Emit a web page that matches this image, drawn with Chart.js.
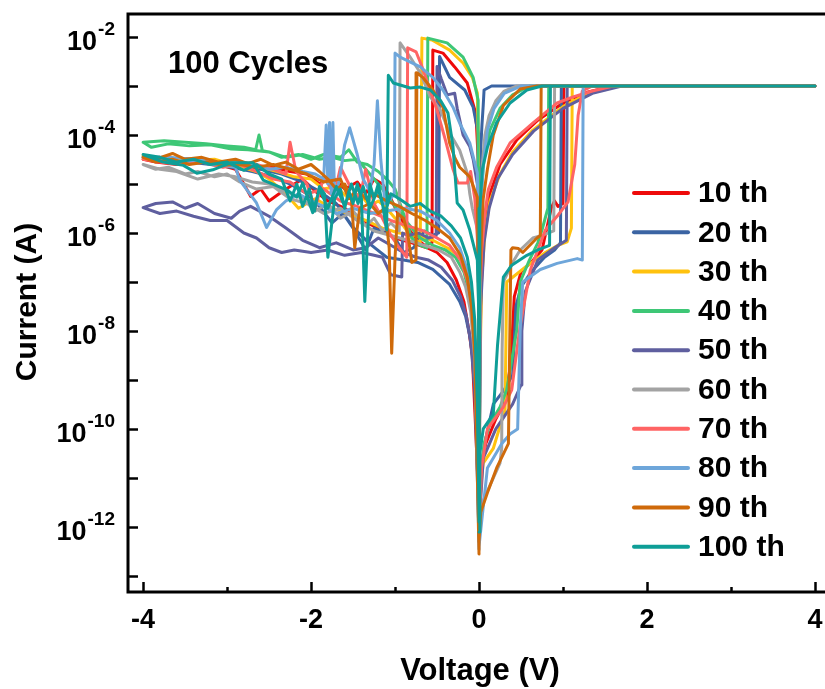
<!DOCTYPE html>
<html>
<head>
<meta charset="utf-8">
<title>100 Cycles I-V</title>
<script src="https://cdn.jsdelivr.net/npm/chart.js@4.4.1/dist/chart.umd.min.js"></script>
<style>
  html, body { margin: 0; padding: 0; background: #fff; }
  #wrap { width: 825px; height: 689px; }
</style>
</head>
<body>
<div id="wrap"><canvas id="chart" width="825" height="689"></canvas></div>
<script>
// Legend / series names and colours
const cycleLabels = ['10 th', '20 th', '30 th', '40 th', '50 th', '60 th', '70 th', '80 th', '90 th', '100 th'];
const cycleColors = ['#ee0a0a', '#3b64a3', '#ffc20e', '#3ec776', '#5f5f9f', '#a3a3a3', '#ff6464', '#6ea6da', '#cf6a0a', '#0e9e97'];

// Axis ticks
const xMajorTicks = [-4, -2, 0, 2, 4];
const xMinorTicks = [-3, -1, 1, 3];
const yLabelExps = [-12, -10, -8, -6, -4, -2];
const yTickExps = [-13, -12, -11, -10, -9, -8, -7, -6, -5, -4, -3, -2];

// Each cycle: [voltage (V), current (A)] in sweep order 0 -> 4 -> 0 -> -4 -> 0
const cycle10 = [
  [0,1e-12],[0.02,1.3e-11],[0.08,5e-11],[0.2,1.6e-10],[0.32,4e-10],[0.38,2.5e-9],[0.42,5e-8],[0.5,1.6e-7],[0.62,2.5e-7],[0.75,4.5e-7],[0.86,3.2e-6],[0.9,4.5e-6],[0.94,3.5e-6],[1.0,4e-6],[1.01,1e-3],[4,1e-3],
  [1.6,1e-3],[1.3,7.6e-4],[1.0,4.5e-4],[0.7,2e-4],[0.45,7.9e-5],[0.25,2.5e-5],[0.13,6.3e-6],[0.07,1.6e-6],[0.03,2.5e-7],[0.01,3.2e-9],[0,3.2e-12],
  [-0.01,3.2e-5],[-0.03,1.6e-4],[-0.05,3.2e-4],[-0.14,1.15e-3],[-0.29,2.45e-3],[-0.43,4.7e-3],[-0.55,5.4e-3],[-0.56,6.3e-7],
  [-0.65,5.6e-7],[-0.75,7.9e-7],[-0.85,1.26e-6],[-0.95,2.2e-6],[-1.05,5e-6],[-1.15,1e-5],[-1.25,1.26e-5],[-1.35,6.3e-6],[-1.45,1.1e-5],[-1.6,7.9e-6],[-1.75,1.4e-5],[-1.9,1e-5],[-2.05,1.6e-5],[-2.25,1.8e-5],[-2.45,2.2e-5],[-2.65,2e-5],[-2.85,2.5e-5],[-3.05,2.8e-5],[-3.3,3.2e-5],[-3.55,2.8e-5],[-3.8,3.5e-5],[-4,3.2e-5],
  [-3.85,2.8e-5],[-3.6,2.5e-5],[-3.35,3.2e-5],[-3.1,2.5e-5],[-2.9,2e-5],[-2.8,1e-5],[-2.72,5.6e-6],[-2.6,7.9e-6],[-2.5,4.5e-6],[-2.38,6.3e-6],[-2.25,8.9e-6],[-2.1,1.26e-5],[-1.95,7.1e-6],[-1.8,4.5e-6],[-1.6,3.2e-6],[-1.4,1.8e-6],[-1.2,1.26e-6],[-1.0,7.9e-7],[-0.8,6.3e-7],[-0.62,5e-7],[-0.5,4e-7],[-0.38,2.5e-7],[-0.27,1.1e-7],[-0.18,4e-8],[-0.12,1e-8],[-0.08,3.2e-9],[-0.04,1e-10],[-0.01,6.3e-12],[0,1e-12]
];
const cycle20 = [
  [0,5e-13],[0.02,1.6e-11],[0.08,6.3e-11],[0.17,3.2e-10],[0.3,6.3e-10],[0.4,1.26e-9],[0.44,3.2e-8],[0.5,7.9e-8],[0.62,1.6e-7],[0.78,3.2e-7],[0.9,4.5e-7],[0.97,6.3e-7],[0.98,1e-3],[4,1e-3],
  [0.15,1e-3],[0.06,8.3e-4],[0.05,4e-4],[0.035,1.6e-4],[0.02,5e-5],[0.01,1e-5],[0,1.6e-12],
  [-0.01,1.1e-4],[-0.07,3.7e-4],[-0.17,8.3e-4],[-0.35,1.5e-3],[-0.47,4e-3],[-0.48,1e-6],
  [-0.55,8.9e-7],[-0.65,1.1e-6],[-0.78,5e-7],[-0.9,4e-7],[-1.0,7.9e-7],[-1.12,1e-6],[-1.25,1.26e-6],[-1.35,4.5e-7],[-1.5,1.26e-6],[-1.62,2.5e-6],[-1.75,1.6e-6],[-1.9,3.5e-6],[-2.05,6.3e-6],[-2.25,1e-5],[-2.45,1.4e-5],[-2.7,1.8e-5],[-2.95,2.2e-5],[-3.2,2.5e-5],[-3.45,2.8e-5],[-3.7,3.2e-5],[-4,3.5e-5],
  [-3.8,3.2e-5],[-3.5,3.3e-5],[-3.2,2.8e-5],[-2.9,2.4e-5],[-2.6,2e-5],[-2.35,1.6e-5],[-2.1,1.1e-5],[-1.9,7.1e-6],[-1.7,4e-6],[-1.5,1.3e-6],[-1.3,6e-7],[-1.1,3.2e-7],[-0.9,2.8e-7],[-0.73,2.5e-7],[-0.55,1.8e-7],[-0.35,8.9e-8],[-0.23,4e-8],[-0.16,2e-8],[-0.11,7.9e-9],[-0.07,2.5e-9],[-0.03,1.6e-10],[0,2.5e-12]
];
const cycle30 = [
  [0,6.3e-13],[0.02,6.3e-12],[0.05,2e-11],[0.17,4e-11],[0.31,2.5e-10],[0.33,1e-7],[0.55,2e-7],[0.79,4e-7],[0.94,5.6e-7],[1.05,6.6e-7],[1.1,1.26e-6],[1.11,1e-3],[4,1e-3],
  [1.65,1e-3],[1.3,7.1e-4],[1.0,3.8e-4],[0.64,1.26e-4],[0.4,4.5e-5],[0.25,1.6e-5],[0.13,4.5e-6],[0.07,1e-6],[0.03,1e-7],[0.01,1e-9],[0,1.6e-12],
  [-0.005,3.2e-5],[-0.02,7.2e-4],[-0.08,1.5e-3],[-0.19,2.95e-3],[-0.35,5.4e-3],[-0.56,8.7e-3],[-0.68,9.5e-3],[-0.7,6.3e-7],
  [-0.8,7.9e-7],[-0.9,1.4e-6],[-1.0,2e-6],[-1.1,3.2e-6],[-1.2,4.5e-6],[-1.3,3.5e-6],[-1.42,6.3e-6],[-1.55,5e-6],[-1.7,8.9e-6],[-1.85,7.9e-6],[-2.0,1.26e-5],[-2.2,1.4e-5],[-2.4,1.8e-5],[-2.6,2.2e-5],[-2.85,2.5e-5],[-3.1,2.8e-5],[-3.4,3.2e-5],[-3.7,3.2e-5],[-4,3.8e-5],
  [-3.75,3.3e-5],[-3.45,3e-5],[-3.15,3.2e-5],[-2.9,2.4e-5],[-2.65,1.8e-5],[-2.5,1.26e-5],[-2.3,6.3e-6],[-2.15,3.2e-6],[-1.95,5e-6],[-1.75,3.2e-6],[-1.55,2.5e-6],[-1.35,1.8e-6],[-1.15,1.26e-6],[-0.95,1e-6],[-0.75,8.9e-7],[-0.55,7.1e-7],[-0.38,5e-7],[-0.25,3.5e-7],[-0.17,2.2e-7],[-0.12,1.1e-7],[-0.08,5e-8],[-0.04,3.2e-9],[0,1.26e-12]
];
const cycle40 = [
  [0,7.9e-13],[0.02,1.26e-11],[0.06,5e-11],[0.13,1.26e-10],[0.25,2.8e-10],[0.33,6.3e-10],[0.45,1.05e-8],[0.49,1e-7],[0.6,2.8e-7],[0.7,6.3e-7],[0.75,1.15e-6],[0.82,3.2e-6],[0.83,1e-3],[4,1e-3],
  [0.6,1e-3],[0.4,6.6e-4],[0.25,3.5e-4],[0.13,1.26e-4],[0.06,3.2e-5],[0.02,5e-6],[0,2e-12],
  [-0.005,2.2e-5],[-0.01,5.1e-4],[-0.07,1.5e-3],[-0.19,3.9e-3],[-0.38,7.6e-3],[-0.61,9.5e-3],[-0.62,5e-7],
  [-0.7,5.6e-7],[-0.8,7.9e-7],[-0.9,2.5e-6],[-1.0,7.9e-6],[-1.1,1.26e-5],[-1.2,1.8e-5],[-1.33,2.5e-5],[-1.45,2.8e-5],[-1.55,5e-5],[-1.65,3.5e-5],[-1.85,4e-5],[-2.0,3.2e-5],[-2.15,4e-5],[-2.35,3.5e-5],[-2.5,4.5e-5],[-2.58,4.8e-5],[-2.62,1e-4],[-2.66,5e-5],[-2.8,5.6e-5],[-3.0,6e-5],[-3.25,6.6e-5],[-3.5,7.1e-5],[-3.75,7.6e-5],[-4,7.1e-5],
  [-3.9,5.6e-5],[-3.7,6.6e-5],[-3.45,6e-5],[-3.2,6.3e-5],[-2.95,5.2e-5],[-2.75,5e-5],[-2.5,4.5e-5],[-2.3,3.5e-5],[-2.1,4e-5],[-1.9,3.2e-5],[-1.75,3.5e-5],[-1.6,3e-5],[-1.45,3.2e-5],[-1.3,1.6e-5],[-1.15,7.9e-6],[-1.0,3.5e-6],[-0.85,1.6e-6],[-0.7,7.9e-7],[-0.55,5.6e-7],[-0.4,4.5e-7],[-0.28,3.2e-7],[-0.18,1.6e-7],[-0.12,6.3e-8],[-0.07,1.26e-8],[-0.03,6.3e-10],[0,1.26e-12]
];
const cycle50 = [
  [0,1e-12],[0.05,2.5e-11],[0.2,1e-10],[0.4,3.2e-10],[0.5,7.9e-10],[0.51,1e-8],[0.55,6.3e-8],[0.7,2.8e-7],[0.9,5e-7],[1.04,7.1e-7],[1.05,1e-3],[4,1e-3],
  [1.7,1e-3],[1.35,7.1e-4],[1.0,3.5e-4],[0.65,1.2e-4],[0.4,4e-5],[0.22,1.26e-5],[0.12,3.2e-6],[0.06,6.3e-7],[0.02,3.2e-8],[0,3.2e-12],
  [-0.005,1e-6],[-0.02,1e-5],[-0.07,3.2e-5],[-0.11,5.8e-5],[-0.19,1e-4],[-0.26,3.5e-4],[-0.29,7.1e-4],[-0.38,6.6e-4],[-0.45,1.4e-3],[-0.5,2.5e-3],[-0.51,8.9e-7],
  [-0.6,7.9e-7],[-0.72,1e-6],[-0.85,8.9e-7],[-0.91,1e-6],[-0.92,1.26e-7],[-1.05,1.4e-7],[-1.15,3.2e-7],[-1.25,3.5e-7],[-1.4,4e-7],[-1.6,3.5e-7],[-1.8,4.5e-7],[-2.0,4e-7],[-2.2,4.5e-7],[-2.35,4e-7],[-2.5,5e-7],[-2.65,7.9e-7],[-2.8,1e-6],[-3.0,1.8e-6],[-3.2,1.8e-6],[-3.4,2.2e-6],[-3.6,2.8e-6],[-3.8,2.5e-6],[-4,3.3e-6],
  [-3.85,4e-6],[-3.65,4.3e-6],[-3.5,3.2e-6],[-3.35,4e-6],[-3.15,2.5e-6],[-2.95,2e-6],[-2.85,2.8e-6],[-2.72,3.5e-6],[-2.5,2.2e-6],[-2.3,1.26e-6],[-2.1,7.1e-7],[-1.9,5e-7],[-1.7,6.3e-7],[-1.5,4.5e-7],[-1.35,5e-7],[-1.2,7.9e-7],[-1.05,5.6e-7],[-0.9,4e-7],[-0.75,3.2e-7],[-0.6,2.8e-7],[-0.45,2e-7],[-0.32,1.1e-7],[-0.22,5e-8],[-0.15,2e-8],[-0.1,6.3e-9],[-0.05,6.3e-10],[0,6.3e-13]
];
const cycle60 = [
  [0,1e-12],[0.05,3.5e-12],[0.25,2e-11],[0.27,4e-11],[0.275,4e-9],[0.29,1e-7],[0.4,2.5e-7],[0.49,4.5e-7],[0.64,7.9e-7],[0.75,8.9e-7],[0.89,1.1e-6],[0.9,1e-3],[4,1e-3],
  [0.45,1e-3],[0.3,7.9e-4],[0.2,5e-4],[0.12,2.5e-4],[0.07,1e-4],[0.04,2.5e-5],[0.02,5e-6],[0.01,6.3e-7],[0,2.5e-12],
  [-0.005,1e-7],[-0.01,1e-6],[-0.08,3.2e-6],[-0.11,6.3e-6],[-0.14,1.66e-5],[-0.23,4.9e-5],[-0.35,1.1e-4],[-0.46,3.2e-4],[-0.58,6e-4],[-0.7,1.86e-3],[-0.82,3.9e-3],[-0.94,7.6e-3],[-0.95,1.1e-6],
  [-1.05,1.6e-6],[-1.15,1.1e-6],[-1.25,2e-6],[-1.35,1.4e-6],[-1.5,2.8e-6],[-1.65,2e-6],[-1.8,4e-6],[-1.95,2.8e-6],[-2.1,5e-6],[-2.3,7.1e-6],[-2.5,1e-5],[-2.7,1.1e-5],[-2.9,1.4e-5],[-3.1,1.6e-5],[-3.35,1.26e-5],[-3.6,1.8e-5],[-3.8,2e-5],[-4,2.5e-5],
  [-3.85,2e-5],[-3.7,2.2e-5],[-3.5,1.6e-5],[-3.35,1.8e-5],[-3.15,1.4e-5],[-3.0,1.6e-5],[-2.85,1.1e-5],[-2.65,7.9e-6],[-2.45,8.9e-6],[-2.25,5e-6],[-2.05,4e-6],[-1.85,2.5e-6],[-1.65,3.2e-6],[-1.45,1.8e-6],[-1.25,1.1e-6],[-1.05,8.9e-7],[-0.85,7.1e-7],[-0.65,5.6e-7],[-0.48,4.5e-7],[-0.33,3.2e-7],[-0.23,1.6e-7],[-0.16,7.9e-8],[-0.1,2.5e-8],[-0.05,2.5e-9],[0,1e-12]
];
const cycle70 = [
  [0,7.9e-13],[0.03,1.6e-11],[0.1,1e-10],[0.29,2.8e-10],[0.39,6.3e-10],[0.45,4e-9],[0.49,1.26e-8],[0.61,1.74e-7],[0.79,1.15e-6],[0.94,2.3e-6],[1.06,4.3e-6],[1.14,2.5e-5],[1.18,2.5e-4],[1.23,7.9e-4],[1.35,1e-3],[4,1e-3],
  [1.6,1e-3],[1.35,7.9e-4],[1.12,6e-4],[0.93,4.5e-4],[0.64,1.74e-4],[0.37,6.9e-5],[0.21,2.2e-5],[0.11,7.6e-6],[0.07,2.5e-6],[0.03,4e-7],[0.01,3.2e-8],[0,4e-12],
  [-0.005,1e-7],[-0.02,7.9e-7],[-0.05,5e-6],[-0.1,1.8e-5],[-0.14,1.05e-5],[-0.25,1.05e-5],[-0.31,2e-5],[-0.4,7.9e-5],[-0.5,3.2e-4],[-0.6,1e-3],[-0.68,2.5e-3],[-0.75,5e-3],[-0.85,6e-3],[-0.86,3.2e-7],
  [-0.95,5e-7],[-1.05,8.9e-7],[-1.15,2e-6],[-1.25,4e-6],[-1.35,2e-5],[-1.42,5e-6],[-1.55,1e-5],[-1.65,2.2e-5],[-1.72,6.3e-6],[-1.85,1.4e-5],[-1.95,3.2e-6],[-2.05,1e-5],[-2.18,1.8e-5],[-2.25,7.1e-5],[-2.3,1.6e-5],[-2.45,2e-5],[-2.65,2.5e-5],[-2.85,2.8e-5],[-3.05,2.5e-5],[-3.3,3.2e-5],[-3.55,2.8e-5],[-3.8,3.3e-5],[-4,3.2e-5],
  [-3.8,2.8e-5],[-3.55,2.5e-5],[-3.3,2.8e-5],[-3.05,2.2e-5],[-2.85,2.5e-5],[-2.65,1.8e-5],[-2.45,1.26e-5],[-2.25,1.1e-5],[-2.05,6.3e-6],[-1.85,7.9e-6],[-1.65,4.5e-6],[-1.45,3.5e-6],[-1.25,2.5e-6],[-1.05,1.8e-6],[-0.85,1.4e-6],[-0.66,1.1e-6],[-0.5,7.9e-7],[-0.35,5.6e-7],[-0.22,2.8e-7],[-0.14,1.1e-7],[-0.09,4e-8],[-0.05,6.3e-9],[-0.02,1.6e-10],[0,7.9e-13]
];
const cycle80 = [
  [0,4e-13],[0.1,1.6e-11],[0.27,5e-11],[0.37,7.9e-11],[0.46,1e-10],[0.49,1e-8],[0.52,1e-7],[0.73,1.8e-7],[0.93,2.4e-7],[1.17,3e-7],[1.23,2.8e-7],[1.24,1e-3],[4,1e-3],
  [0.5,1e-3],[0.3,7.1e-4],[0.18,3.5e-4],[0.1,1.26e-4],[0.05,2.5e-5],[0.02,2.5e-6],[0,1.6e-12],
  [-0.005,3.2e-7],[-0.02,1.66e-5],[-0.11,6.9e-5],[-0.23,1.74e-4],[-0.31,3.7e-4],[-0.43,8.3e-4],[-0.55,1.5e-3],[-0.7,2.45e-3],[-0.94,3.9e-3],[-1.0,4.7e-3],[-1.01,6.3e-6],
  [-1.05,5e-6],[-1.12,4e-6],[-1.17,3.2e-5],[-1.21,5e-4],[-1.25,2.5e-5],[-1.3,7.1e-6],[-1.38,1.26e-5],[-1.45,4e-5],[-1.54,1.4e-4],[-1.6,6.3e-5],[-1.66,1.26e-5],[-1.72,5e-6],[-1.74,1.8e-4],[-1.76,6.3e-6],[-1.78,1.8e-4],[-1.8,1e-5],[-1.82,1.6e-4],[-1.85,1.26e-5],[-1.95,1.6e-5],[-2.1,1.8e-5],[-2.3,2.2e-5],[-2.5,2e-5],[-2.7,2.5e-5],[-2.9,2.8e-5],[-3.15,2.5e-5],[-3.4,3.2e-5],[-3.7,3.5e-5],[-4,3.5e-5],
  [-3.8,3.2e-5],[-3.55,2.8e-5],[-3.3,3.2e-5],[-3.1,2.5e-5],[-2.9,2.2e-5],[-2.85,1.2e-5],[-2.65,4.1e-6],[-2.53,1.3e-6],[-2.41,3e-6],[-2.3,4.5e-6],[-2.15,6.3e-6],[-2.0,4.5e-6],[-1.85,3.5e-6],[-1.7,2.5e-6],[-1.5,3.2e-6],[-1.3,2.5e-6],[-1.1,2.8e-6],[-0.9,3.2e-6],[-0.7,2.8e-6],[-0.5,1.8e-6],[-0.35,1e-6],[-0.23,5e-7],[-0.15,2e-7],[-0.1,6.3e-8],[-0.05,5e-9],[0,3.5e-13]
];
const cycle90 = [
  [0,5e-13],[0.02,2e-12],[0.1,5e-12],[0.21,1.6e-11],[0.35,5e-11],[0.38,4.5e-7],[0.4,5e-7],[0.47,4.8e-7],[0.52,4e-7],[0.69,7.9e-7],[0.73,8.9e-7],[0.74,1e-3],[4,1e-3],
  [0.69,1e-3],[0.49,8.7e-4],[0.29,4e-4],[0.17,1e-4],[0.1,2e-5],[0.05,5e-6],[0.03,1e-6],[0.01,1e-7],[0,3.2e-13],
  [-0.005,3.2e-8],[-0.02,5.4e-6],[-0.11,1.4e-5],[-0.23,2.2e-5],[-0.29,3.5e-5],[-0.35,6.9e-5],[-0.43,3.7e-4],[-0.55,8.3e-4],[-0.67,1.5e-3],[-0.74,1.86e-3],[-0.75,2.8e-7],
  [-0.8,2.5e-7],[-0.85,1e-6],[-0.9,2e-6],[-0.97,2.5e-6],[-1.0,3.2e-7],[-1.04,3.5e-9],[-1.07,5e-7],[-1.12,3.2e-6],[-1.2,2.5e-6],[-1.3,4e-6],[-1.42,3.2e-6],[-1.48,5e-7],[-1.52,5e-6],[-1.6,1e-5],[-1.7,7.9e-6],[-1.8,1.26e-5],[-1.9,1.8e-5],[-2.0,2.5e-5],[-2.15,2e-5],[-2.3,2.8e-5],[-2.45,2.4e-5],[-2.6,3.2e-5],[-2.75,2.6e-5],[-2.9,3.2e-5],[-3.1,2.8e-5],[-3.3,3.5e-5],[-3.5,3.2e-5],[-3.65,4.2e-5],[-3.85,3.2e-5],[-4,3.5e-5],
  [-3.85,2.8e-5],[-3.65,3.2e-5],[-3.45,2.5e-5],[-3.25,2.8e-5],[-3.05,2.4e-5],[-2.85,2.5e-5],[-2.65,2.2e-5],[-2.45,2.5e-5],[-2.25,2e-5],[-2.05,1.6e-5],[-1.85,1.1e-5],[-1.65,1.26e-5],[-1.55,5e-6],[-1.45,7.9e-6],[-1.35,5e-6],[-1.25,6.3e-6],[-1.1,4.5e-6],[-0.95,3.5e-6],[-0.8,2.5e-6],[-0.64,1.8e-6],[-0.5,1.26e-6],[-0.35,7.9e-7],[-0.22,3.5e-7],[-0.14,1.26e-7],[-0.09,3.2e-8],[-0.05,3.2e-9],[0,2.8e-13]
];
const cycle100 = [
  [0,7.9e-13],[0.01,3.2e-11],[0.05,1e-10],[0.17,2e-10],[0.22,5e-9],[0.29,1.26e-7],[0.39,2.2e-7],[0.57,3.5e-7],[0.7,4.5e-7],[0.84,5.6e-7],[0.85,1e-3],[4,1e-3],
  [0.75,1e-3],[0.57,8.3e-4],[0.37,4.5e-4],[0.21,1.8e-4],[0.1,5.6e-5],[0.04,2e-5],[0.01,3.2e-6],[0,1.26e-12],
  [-0.005,3.2e-8],[-0.02,2.8e-7],[-0.11,1.15e-6],[-0.19,2.95e-6],[-0.26,4.1e-6],[-0.31,5.8e-5],[-0.37,2.8e-4],[-0.46,5.1e-4],[-0.58,8.3e-4],[-0.7,9.5e-4],[-0.82,9.1e-4],[-0.94,1.05e-3],[-1.02,1.15e-3],[-1.08,1.66e-3],[-1.1,1.15e-6],
  [-1.15,4e-6],[-1.2,1e-5],[-1.25,5e-6],[-1.3,1e-5],[-1.36,4e-8],[-1.4,5e-6],[-1.45,1e-5],[-1.5,4e-6],[-1.55,7.1e-6],[-1.6,3.2e-6],[-1.65,7.9e-6],[-1.72,5e-6],[-1.8,3.2e-7],[-1.84,6.3e-6],[-1.9,8.9e-6],[-1.96,2.8e-6],[-2.02,7.9e-6],[-2.1,3.5e-6],[-2.17,1e-5],[-2.25,4.5e-6],[-2.35,1.26e-5],[-2.5,1.6e-5],[-2.65,2.5e-5],[-2.8,1.9e-5],[-3.0,2.8e-5],[-3.2,2.5e-5],[-3.4,3.2e-5],[-3.6,2.8e-5],[-3.8,3.5e-5],[-4,4e-5],
  [-3.76,2.8e-5],[-3.52,2.4e-5],[-3.36,1.66e-5],[-3.17,1.95e-5],[-2.96,2.7e-5],[-2.69,2.7e-5],[-2.57,1.2e-5],[-2.29,7.6e-6],[-2.17,5.4e-6],[-2.1,1.05e-5],[-1.98,2.6e-6],[-1.9,7.9e-6],[-1.8,3.2e-6],[-1.7,8.9e-6],[-1.6,3.5e-6],[-1.52,1e-5],[-1.44,4e-6],[-1.38,8.9e-6],[-1.3,3.2e-6],[-1.2,7.9e-6],[-1.12,2.5e-6],[-1.05,6.3e-6],[-0.95,5e-6],[-0.82,3.5e-6],[-0.7,4e-6],[-0.58,2.8e-6],[-0.45,2.2e-6],[-0.33,1.4e-6],[-0.22,7.9e-7],[-0.14,3.2e-7],[-0.09,1e-7],[-0.05,1.6e-8],[-0.02,3.2e-10],[0,1.6e-12]
];

const cycles = [cycle10, cycle20, cycle30, cycle40, cycle50, cycle60, cycle70, cycle80, cycle90, cycle100];

const FONT = '"Liberation Sans", Arial, Helvetica, sans-serif';

// Axes box, inward ticks, superscript tick labels, titles and legend
const decorations = {
  id: 'decorations',
  afterDatasetsDraw(chart) {
    const { ctx, chartArea: a, scales: { x, y } } = chart;
    ctx.save();
    ctx.strokeStyle = '#000';
    ctx.fillStyle = '#000';
    ctx.lineWidth = 3;
    ctx.beginPath();
    ctx.moveTo(a.right, a.top);
    ctx.lineTo(a.left, a.top);
    ctx.lineTo(a.left, a.bottom);
    ctx.lineTo(a.right, a.bottom);
    ctx.stroke();

    // y ticks (every decade)
    ctx.lineWidth = 2.5;
    yTickExps.forEach(e => {
      const py = Math.round(y.getPixelForValue(Math.pow(10, e))) + 0.5;
      ctx.beginPath();
      ctx.moveTo(a.left, py);
      ctx.lineTo(a.left + 10, py);
      ctx.stroke();
    });
    // x ticks
    xMajorTicks.forEach(v => {
      const px = Math.round(x.getPixelForValue(v)) + 0.5;
      ctx.beginPath();
      ctx.moveTo(px, a.bottom);
      ctx.lineTo(px, a.bottom - 10);
      ctx.stroke();
    });
    xMinorTicks.forEach(v => {
      const px = Math.round(x.getPixelForValue(v)) + 0.5;
      ctx.beginPath();
      ctx.moveTo(px, a.bottom);
      ctx.lineTo(px, a.bottom - 5);
      ctx.stroke();
    });

    // y tick labels 10^n
    const labelRight = 115;
    yLabelExps.forEach(e => {
      const py = y.getPixelForValue(Math.pow(10, e));
      const sup = String(e);
      ctx.font = 'bold 19px ' + FONT;
      const wSup = ctx.measureText(sup).width;
      ctx.textAlign = 'left';
      ctx.textBaseline = 'alphabetic';
      ctx.fillText(sup, labelRight - wSup, py - 2);
      ctx.font = 'bold 27px ' + FONT;
      ctx.textAlign = 'right';
      ctx.fillText('10', labelRight - wSup - 1, py + 13);
    });

    // x tick labels
    ctx.font = 'bold 27px ' + FONT;
    ctx.textAlign = 'center';
    ctx.textBaseline = 'alphabetic';
    xMajorTicks.forEach(v => {
      ctx.fillText(String(v), x.getPixelForValue(v), 628);
    });

    // axis titles
    ctx.font = 'bold 31px ' + FONT;
    ctx.fillText('Voltage (V)', 480, 680);
    ctx.save();
    ctx.translate(28, 302);
    ctx.rotate(-Math.PI / 2);
    ctx.font = 'bold 30px ' + FONT;
    ctx.textBaseline = 'middle';
    ctx.fillText('Current (A)', 0, 0);
    ctx.restore();

    // annotation
    ctx.font = 'bold 31px ' + FONT;
    ctx.textAlign = 'left';
    ctx.fillText('100 Cycles', 168, 73);

    // legend
    ctx.lineCap = 'round';
    ctx.lineWidth = 4;
    ctx.font = 'bold 30px ' + FONT;
    ctx.textBaseline = 'middle';
    cycleLabels.forEach((lab, k) => {
      const ly = 193 + k * 39.3;
      ctx.strokeStyle = cycleColors[k];
      ctx.beginPath();
      ctx.moveTo(634, ly);
      ctx.lineTo(688, ly);
      ctx.stroke();
      ctx.fillText(lab, 698, ly + 1);
    });
    ctx.restore();
  }
};

new Chart(document.getElementById('chart'), {
  type: 'line',
  data: {
    datasets: cycles.map((pts, k) => ({
      label: cycleLabels[k],
      data: pts.map(p => ({ x: p[0], y: p[1] })),
      borderColor: cycleColors[k],
      borderWidth: 3,
      borderJoinStyle: 'round',
      borderCapStyle: 'round',
      pointRadius: 0,
      tension: 0,
      fill: false,
      order: cycles.length - 1 - k
    }))
  },
  options: {
    responsive: false,
    devicePixelRatio: 1,
    animation: false,
    events: [],
    layout: { padding: { left: 128, top: 14, right: 0, bottom: 97 } },
    scales: {
      x: { type: 'linear', min: -4.18, max: 4.12, display: false },
      y: { type: 'logarithmic', min: 4.7e-14, max: 2.95e-2, display: false }
    },
    plugins: { legend: { display: false }, tooltip: { enabled: false } }
  },
  plugins: [decorations]
});
</script>
</body>
</html>
